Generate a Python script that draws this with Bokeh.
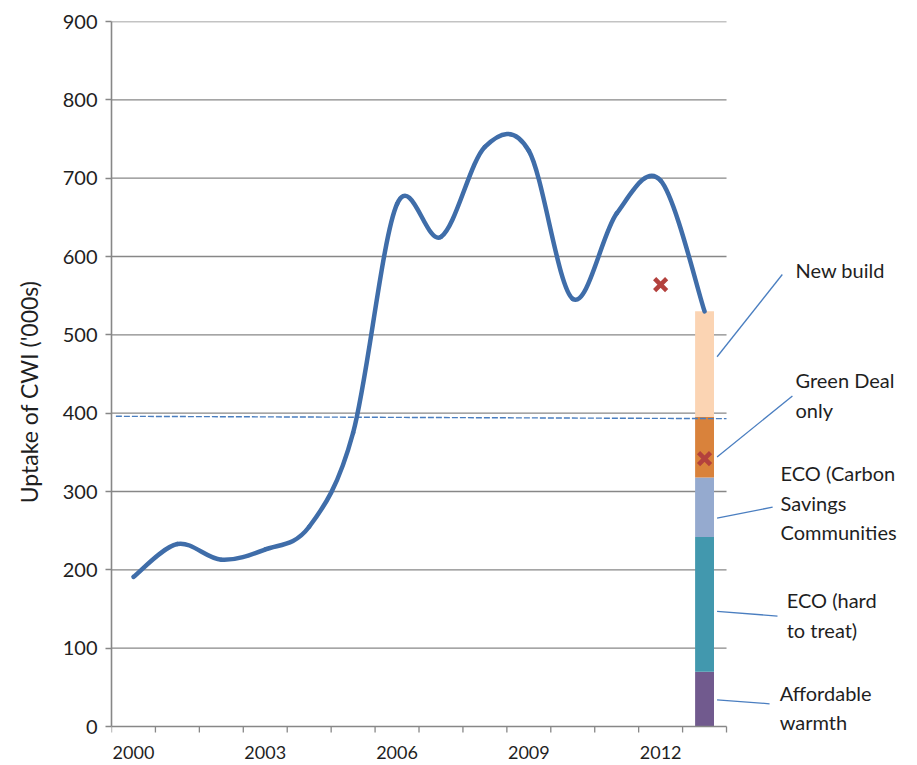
from bokeh.plotting import figure
from bokeh.models import Range1d, FixedTicker, Label
from bokeh.core.properties import value
from bokeh.embed import file_html
from bokeh.resources import INLINE

# ---------------- data ----------------
years = [2000, 2001, 2002, 2003, 2004, 2005, 2006, 2007, 2008, 2009, 2010, 2011, 2012, 2013]
cwi_uptake = [191, 233, 213, 226, 255, 375, 667, 625, 740, 735, 546, 655, 697, 530]

reference_level = [396, 393]          # dashed horizontal reference (start, end)

marker_years = [2012, 2013]
marker_values = [564, 342]

stack_year = 2013
stack_names = ["Affordable warmth", "ECO (hard to treat)", "ECO (Carbon Savings Communities",
               "Green Deal only", "New build"]
stack_values = [70, 172, 76, 77, 135]
stack_colors = ["#715A8E", "#4298AE", "#95AACF", "#D9823B", "#FBD4B3"]

note_lines = [["Affordable", "warmth"], ["ECO (hard", "to treat)"],
              ["ECO (Carbon", "Savings", "Communities"], ["Green Deal", "only"], ["New build"]]

y_ticks = [0, 100, 200, 300, 400, 500, 600, 700, 800, 900]
x_label_years = [2000, 2003, 2006, 2009, 2012]

# ---------------- layout constants ----------------
W, H = 912, 762
LEFT, TOP = 111, 21
PX_PER_UNIT = 705 / 900.0                 # vertical scale (0..900 spans 705 px)
FRAME_H = H - TOP
y_bottom = 900 - FRAME_H / PX_PER_UNIT    # frame extends below 0 so the texts there are not clipped
x_start = years[0] - 0.5
x_end_axis = years[-1] + 0.5
px_per_year = 43.93
x_end = x_start + (W - LEFT) / px_per_year

# callout placement (data units), same order as note_lines
note_x = [2014.71, 2014.87, 2014.73, 2015.07, 2015.07]
note_first_y = [43, 161, 323, 442, 583]
line_step = 37.5
leader_end_x = [2014.48, 2014.66, 2014.55, 2015.00, 2014.77]
leader_end_y = [29, 141, 280, 422, 577]
leader_start_y = [34, 147, 266, 344, 472]

FONT = "Lato"
TXT = "#1F1F1F"
GRID = "#878787"

p = figure(width=W, height=H, x_range=Range1d(x_start, x_end), y_range=Range1d(y_bottom, 900),
           output_backend="svg", toolbar_location=None,
           min_border_left=LEFT, min_border_right=0, min_border_top=TOP, min_border_bottom=0)
p.outline_line_color = None
p.grid.visible = False
p.background_fill_color = "white"
p.xaxis.visible = False

# horizontal gridlines (only over the category area)
grid_vals = [t for t in y_ticks if t > 0]
p.segment(x0=[x_start] * len(grid_vals), x1=[x_end_axis] * len(grid_vals),
          y0=grid_vals, y1=grid_vals, line_color=GRID, line_width=1.3)

# stacked bar
bottoms = []
acc = 0
for v in stack_values:
    bottoms.append(acc)
    acc += v
tops = [b + v for b, v in zip(bottoms, stack_values)]
bar_w = 0.43
p.vbar(x=[stack_year] * len(stack_values), width=bar_w, bottom=bottoms, top=tops,
       fill_color=stack_colors, line_color=None)

# category (x) axis drawn at y = 0
boundaries = [y - 0.5 for y in years] + [years[-1] + 0.5]
tick_len = 6 / PX_PER_UNIT
p.segment(x0=boundaries, x1=boundaries, y0=[0] * len(boundaries),
          y1=[-tick_len] * len(boundaries), line_color=GRID, line_width=1.3)
p.segment(x0=[x_start], x1=[x_end_axis], y0=[0], y1=[0], line_color=GRID, line_width=1.6)
p.text(x=x_label_years, y=[-26 / PX_PER_UNIT] * len(x_label_years),
       text=[str(y) for y in x_label_years], text_font=value(FONT), text_font_size="18px",
       text_align="center", text_baseline="middle", text_color=TXT)

# dashed reference line
p.line(x=[x_start + 0.1, x_end_axis], y=reference_level, line_color="#4A7EBF",
       line_width=1.4, line_dash="6 2")

# smoothed line (Catmull-Rom -> cubic Bezier)
n = len(years)
x0s, y0s, x1s, y1s, cx0, cy0, cx1, cy1 = [], [], [], [], [], [], [], []
for i in range(n - 1):
    xa_, ya_ = years[max(i - 1, 0)], cwi_uptake[max(i - 1, 0)]
    xb, yb = years[i], cwi_uptake[i]
    xc, yc = years[i + 1], cwi_uptake[i + 1]
    xd, yd = years[min(i + 2, n - 1)], cwi_uptake[min(i + 2, n - 1)]
    x0s.append(xb); y0s.append(yb); x1s.append(xc); y1s.append(yc)
    cx0.append(xb + (xc - xa_) / 6.0); cy0.append(yb + (yc - ya_) / 6.0)
    cx1.append(xc - (xd - xb) / 6.0); cy1.append(yc - (yd - yb) / 6.0)
p.bezier(x0=x0s, y0=y0s, x1=x1s, y1=y1s, cx0=cx0, cy0=cy0, cx1=cx1, cy1=cy1,
         line_color="#3F6DA9", line_width=4.5, line_cap="round")

# red cross markers
p.scatter(x=marker_years, y=marker_values, marker="x", size=17, line_width=4.5,
          line_color="#B3413D")

# leader lines
start_x = stack_year + bar_w / 2 + 0.07
p.segment(x0=[start_x] * len(leader_start_y), y0=leader_start_y,
          x1=leader_end_x, y1=leader_end_y, line_color="#4A7EC0", line_width=1.3)

# callout texts
for lines, nx, ny in zip(note_lines, note_x, note_first_y):
    for k, t in enumerate(lines):
        p.add_layout(Label(x=nx, y=ny - k * line_step, x_units="data", y_units="data",
                           text=t, text_font=FONT, text_font_size="20px",
                           text_baseline="middle", text_align="left", text_color=TXT))

# y axis
yax = p.yaxis[0]
yax.ticker = FixedTicker(ticks=y_ticks)
yax.bounds = (0, 900)
yax.minor_tick_line_color = None
yax.major_tick_out = 6
yax.major_tick_in = 0
yax.major_tick_line_color = GRID
yax.major_tick_line_width = 1.3
yax.axis_line_color = GRID
yax.axis_line_width = 1.6
yax.major_label_standoff = 8
yax.major_label_text_font = FONT
yax.major_label_text_font_size = "20px"
yax.major_label_text_color = TXT
yax.axis_label = "Uptake of CWI ('000s)"
yax.axis_label_text_font = FONT
yax.axis_label_text_font_size = "23px"
yax.axis_label_text_font_style = "normal"
yax.axis_label_text_color = TXT
yax.axis_label_standoff = 17

open("out.html", "w").write(file_html(p, INLINE))
